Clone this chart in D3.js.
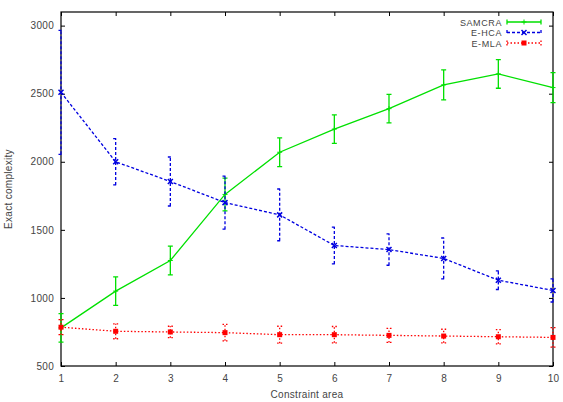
<!DOCTYPE html>
<html>
<head>
<meta charset="utf-8">
<script src="https://cdn.jsdelivr.net/npm/d3@7"></script>
<style>
body { margin: 0; background: #fff; }
svg text { font-family: "Liberation Sans", Arial, sans-serif; font-size: 10px; fill: #444; letter-spacing: 0.3px; }
</style>
</head>
<body>
<svg width="563" height="402"></svg>
<script>
var width = 563;
var height = 402;
var margin = {top: 12, right: 10, bottom: 36, left: 61};

var areas = [1, 2, 3, 4, 5, 6, 7, 8, 9, 10];
var yTicks = [500, 1000, 1500, 2000, 2500, 3000];

var samcraMean = [780, 1050, 1275, 1760, 2070, 2240, 2390, 2565, 2645, 2545];
var samcraErr  = [105, 105, 105, 120, 105, 105, 105, 110, 105, 110];
var ehcaMean   = [2510, 2000, 1855, 1700, 1610, 1385, 1355, 1290, 1130, 1055];
var ehcaErr    = [455, 170, 180, 195, 190, 135, 115, 150, 68, 85];
var emlaMean   = [785, 755, 750, 745, 730, 730, 725, 720, 715, 710];
var emlaErr    = [55, 55, 42, 60, 62, 60, 52, 50, 52, 72];

var series = [
  {name: "SAMCRA", mean: samcraMean, err: samcraErr, color: "#00e000", dash: null, point: "plus"},
  {name: "E-HCA", mean: ehcaMean, err: ehcaErr, color: "#0000e0", dash: "3,2", point: "cross"},
  {name: "E-MLA", mean: emlaMean, err: emlaErr, color: "#ff0000", dash: "1.5,2", point: "square"}
];

var svg = d3.select("svg");

var x = d3.scaleLinear().domain([1, 10]).range([margin.left, width - margin.right]);
var y = d3.scaleLinear().domain([500, 3100]).range([height - margin.bottom, margin.top]);

// axes (gnuplot style: ticks inward, mirrored)
svg.append("g")
    .attr("transform", "translate(0," + (height - margin.bottom) + ")")
    .call(d3.axisBottom(x).tickValues(areas).tickSize(-4).tickPadding(9).tickFormat(d3.format("d")))
    .call(g => g.select(".domain").remove());
svg.append("g")
    .attr("transform", "translate(0," + margin.top + ")")
    .call(d3.axisTop(x).tickValues(areas).tickSize(-4).tickFormat(""))
    .call(g => g.select(".domain").remove());
svg.append("g")
    .attr("transform", "translate(" + margin.left + ",0)")
    .call(d3.axisLeft(y).tickValues(yTicks).tickSize(-4).tickPadding(7).tickFormat(d3.format("d")))
    .call(g => g.select(".domain").remove());
svg.append("g")
    .attr("transform", "translate(" + (width - margin.right) + ",0)")
    .call(d3.axisRight(y).tickValues(yTicks).tickSize(-4).tickFormat(""))
    .call(g => g.select(".domain").remove());
svg.selectAll(".tick line").attr("stroke", "#000");
svg.selectAll(".tick text").attr("font-size", "10px").attr("font-family", "Liberation Sans, Arial, sans-serif").attr("fill", "#444");

svg.append("rect")
    .attr("x", margin.left).attr("y", margin.top)
    .attr("width", width - margin.left - margin.right)
    .attr("height", height - margin.top - margin.bottom)
    .attr("fill", "none").attr("stroke", "#000").attr("stroke-width", 1.2);

svg.append("text")
    .attr("x", (margin.left + width - margin.right) / 2)
    .attr("y", 398)
    .attr("text-anchor", "middle")
    .text("Constraint area");
svg.append("text")
    .attr("transform", "translate(12," + ((margin.top + height - margin.bottom) / 2) + ") rotate(-90)")
    .attr("text-anchor", "middle")
    .text("Exact complexity");

function drawPoint(g, type, cx, cy, color) {
  if (type === "plus") {
    g.append("path").attr("d", "M" + (cx - 2.5) + "," + cy + "H" + (cx + 2.5) + "M" + cx + "," + (cy - 2.5) + "V" + (cy + 2.5))
      .attr("stroke", color).attr("stroke-width", 1);
  } else if (type === "cross") {
    g.append("path").attr("d", "M" + (cx - 2.5) + "," + (cy - 2.5) + "L" + (cx + 2.5) + "," + (cy + 2.5) + "M" + (cx - 2.5) + "," + (cy + 2.5) + "L" + (cx + 2.5) + "," + (cy - 2.5))
      .attr("stroke", color).attr("stroke-width", 1.5);
  } else {
    g.append("rect").attr("x", cx - 2.5).attr("y", cy - 2.5).attr("width", 5).attr("height", 5).attr("fill", color);
  }
}

var line = d3.line().x(d => x(d.a)).y(d => y(d.m));

series.forEach(function(s) {
  var g = svg.append("g");
  var pts = areas.map((a, i) => ({a: a, m: s.mean[i], e: s.err[i]}));

  pts.forEach(function(p) {
    var px = x(p.a);
    var y0 = y(p.m - p.e), y1 = y(p.m + p.e);
    var path = "M" + px + "," + y0 + "V" + y1 +
      "M" + (px - 2.5) + "," + y0 + "H" + (px + 2.5) +
      "M" + (px - 2.5) + "," + y1 + "H" + (px + 2.5);
    g.append("path").attr("d", path).attr("fill", "none")
      .attr("stroke", s.color).attr("stroke-width", 1.3)
      .attr("stroke-dasharray", s.dash);
  });

  g.append("path").datum(pts).attr("d", line).attr("fill", "none")
    .attr("stroke", s.color).attr("stroke-width", 1.3)
    .attr("stroke-dasharray", s.dash);

  pts.forEach(p => drawPoint(g, s.point, x(p.a), y(p.m), s.color));
});

// legend
var legend = svg.append("g");
series.forEach(function(s, i) {
  var ly = 22 + i * 10.5;
  legend.append("text").attr("x", 502).attr("y", ly + 3.5).attr("text-anchor", "end")
    .style("font-size", "9px").style("letter-spacing", "0.6px").text(s.name);
  legend.append("path")
    .attr("d", "M507," + ly + "H541M507," + (ly - 2.5) + "V" + (ly + 2.5) + "M541," + (ly - 2.5) + "V" + (ly + 2.5))
    .attr("stroke", s.color).attr("stroke-width", 1.3).attr("fill", "none")
    .attr("stroke-dasharray", s.dash);
  drawPoint(legend, s.point, 524, ly, s.color);
});
</script>
</body>
</html>
